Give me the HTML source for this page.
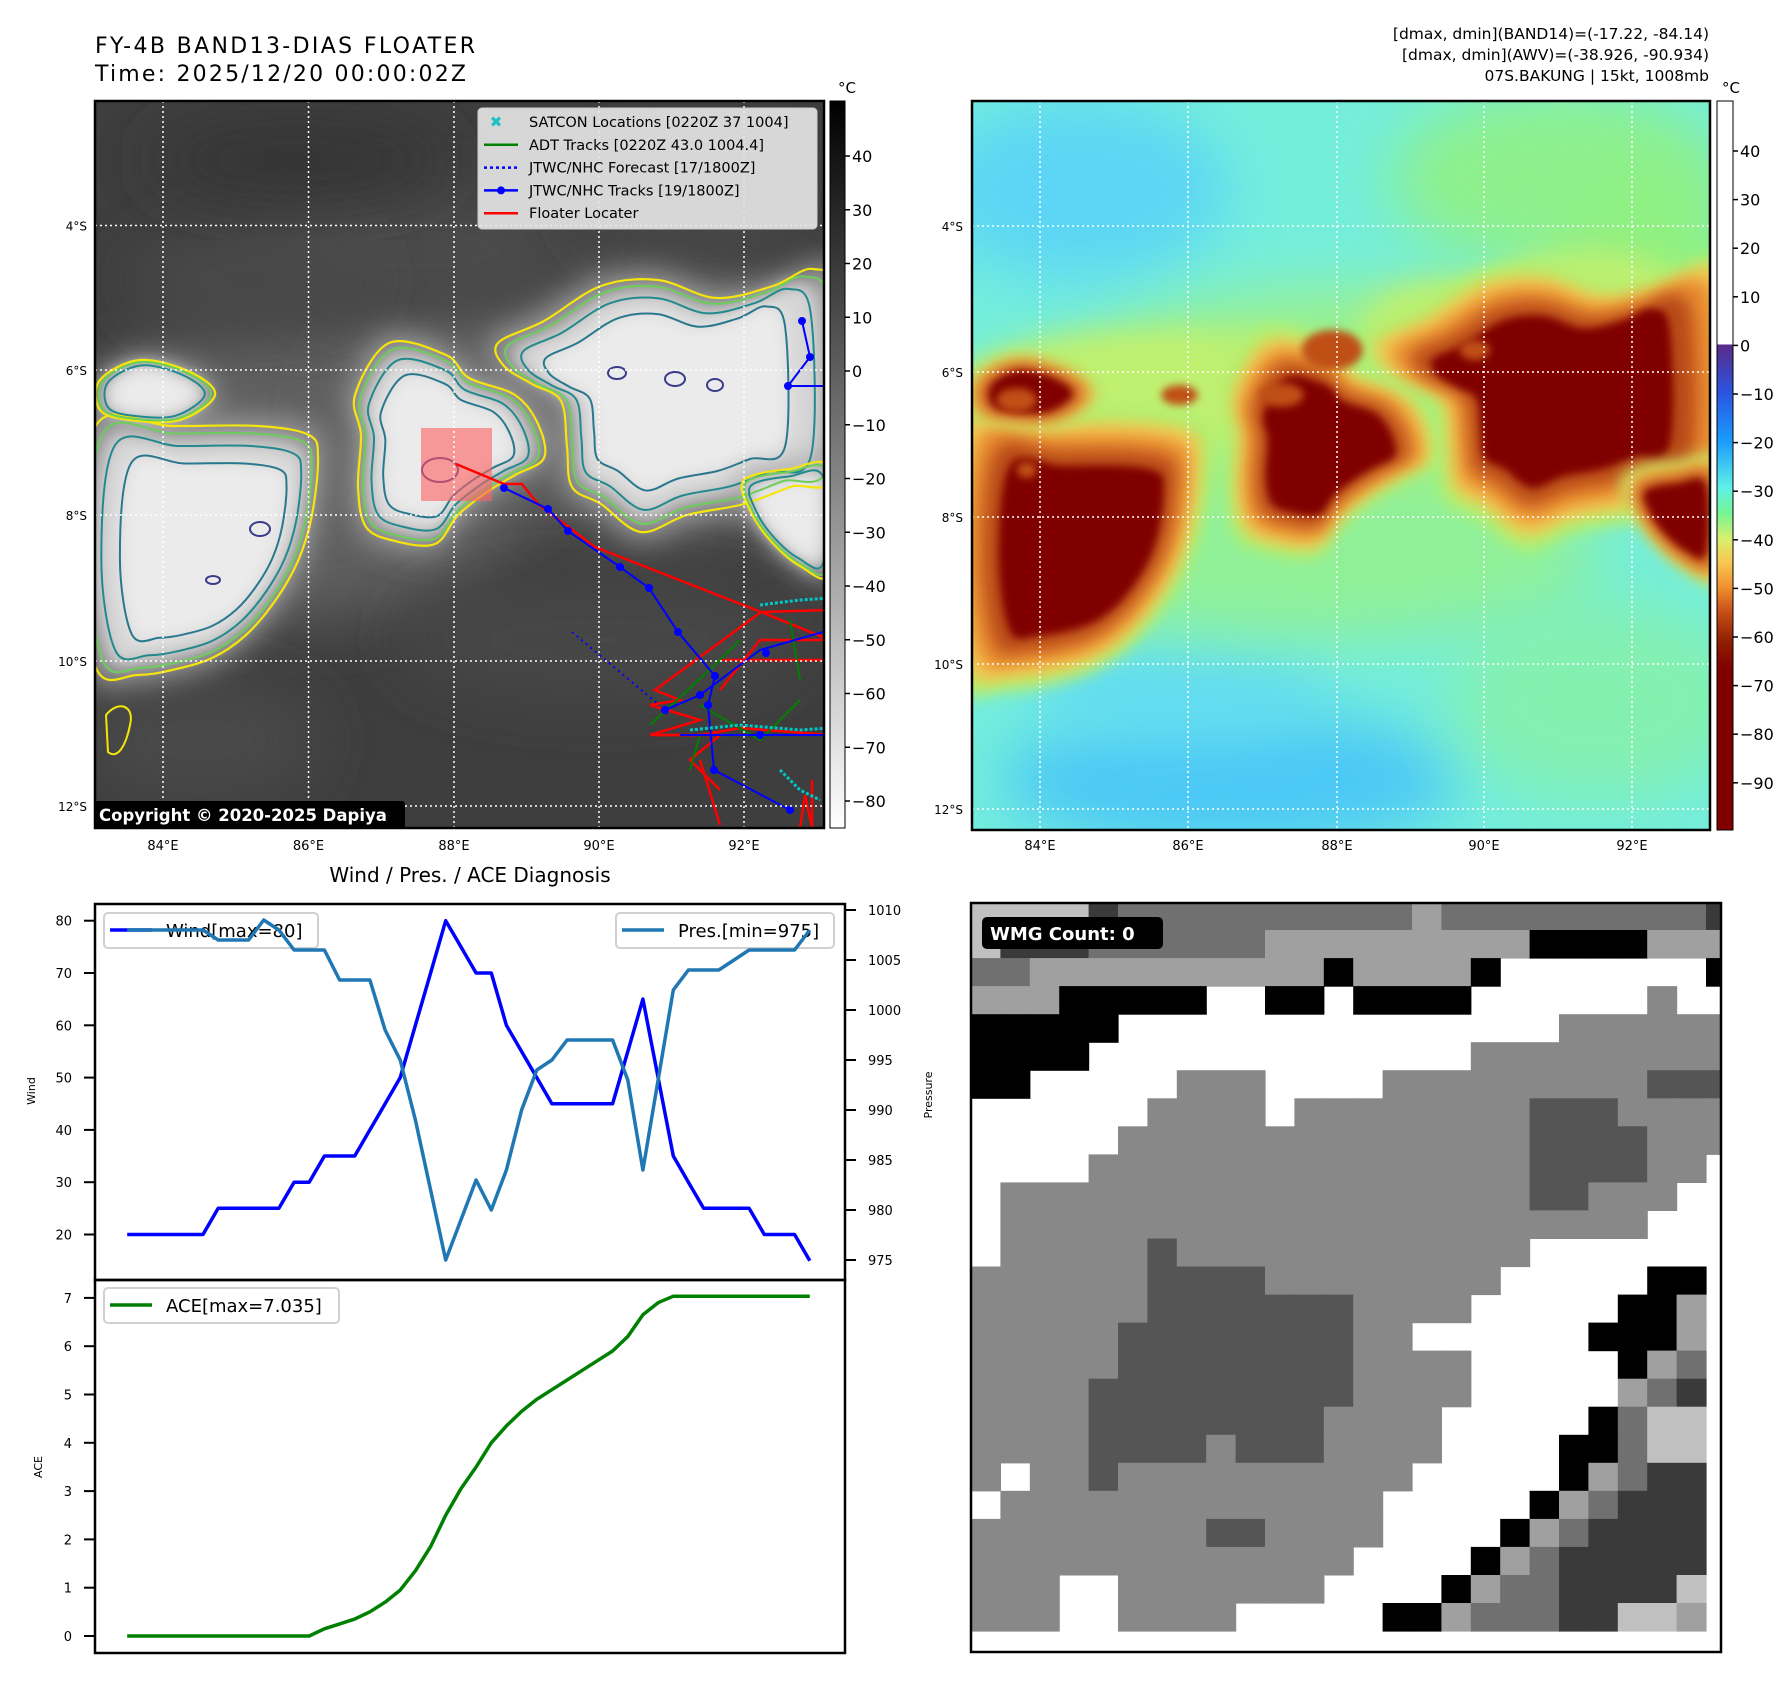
<!DOCTYPE html>
<html><head><meta charset="utf-8">
<style>
html,body{margin:0;padding:0;background:#fff;}
svg{display:block;font-family:"DejaVu Sans","Liberation Sans",sans-serif;}
</style></head>
<body>
<svg id="root" xmlns="http://www.w3.org/2000/svg" width="1788" height="1690" viewBox="0 0 1788 1690">
<defs>
 <filter id="b4" x="-50%" y="-50%" width="200%" height="200%"><feGaussianBlur stdDeviation="4"/></filter>
 <filter id="b8" x="-50%" y="-50%" width="200%" height="200%"><feGaussianBlur stdDeviation="8"/></filter>
 <filter id="b15" x="-50%" y="-50%" width="200%" height="200%"><feGaussianBlur stdDeviation="15"/></filter>
 <filter id="b30" x="-50%" y="-50%" width="200%" height="200%"><feGaussianBlur stdDeviation="30"/></filter>
 <clipPath id="clipL"><rect x="95" y="101" width="729" height="727"/></clipPath>
 <clipPath id="clipR"><rect x="972" y="101" width="738" height="729"/></clipPath>
 <clipPath id="clipG"><rect x="971" y="903" width="750" height="749"/></clipPath>
 <linearGradient id="grayCb" x1="0" y1="0" x2="0" y2="1">
  <stop offset="0" stop-color="#000"/><stop offset="1" stop-color="#fff"/>
 </linearGradient>
 <linearGradient id="awvCb" x1="0" y1="0" x2="0" y2="1">
  <stop offset="0" stop-color="#ffffff"/>
  <stop offset="0.333" stop-color="#ffffff"/>
  <stop offset="0.335" stop-color="#5a2a8a"/>
  <stop offset="0.40" stop-color="#2a55e0"/>
  <stop offset="0.467" stop-color="#1a9cff"/>
  <stop offset="0.53" stop-color="#5ef0e8"/>
  <stop offset="0.567" stop-color="#78f590"/>
  <stop offset="0.60" stop-color="#d8f070"/>
  <stop offset="0.633" stop-color="#f8c850"/>
  <stop offset="0.667" stop-color="#f09030"/>
  <stop offset="0.70" stop-color="#c85018"/>
  <stop offset="0.74" stop-color="#902000"/>
  <stop offset="0.78" stop-color="#800000"/>
  <stop offset="1" stop-color="#800000"/>
 </linearGradient>
</defs>

<text x="95" y="53" font-size="22" textLength="380">FY-4B BAND13-DIAS FLOATER</text>
<text x="95" y="81" font-size="22" textLength="371">Time: 2025/12/20 00:00:02Z</text>
<text x="1709" y="39" font-size="15.5" text-anchor="end">[dmax, dmin](BAND14)=(-17.22, -84.14)</text>
<text x="1709" y="60" font-size="15.5" text-anchor="end">[dmax, dmin](AWV)=(-38.926, -90.934)</text>
<text x="1709" y="81" font-size="15.5" text-anchor="end">07S.BAKUNG | 15kt, 1008mb</text>

<g id="leftMap" clip-path="url(#clipL)"></g>
<rect x="95" y="101" width="729" height="727" fill="none" stroke="#000" stroke-width="2.5"/>
<g id="rightMap" clip-path="url(#clipR)"></g>
<rect x="972" y="101" width="738" height="729" fill="none" stroke="#000" stroke-width="2.5"/>

<rect x="830" y="101" width="15" height="727" fill="url(#grayCb)" stroke="#000" stroke-width="1"/>
<text x="838" y="93" font-size="15">°C</text>
<g id="cbL"></g>
<rect x="1717" y="101" width="16" height="729" fill="url(#awvCb)" stroke="#000" stroke-width="1"/>
<text x="1722" y="93" font-size="15">°C</text>
<g id="cbR"></g>

<text x="470" y="882" font-size="20" text-anchor="middle">Wind / Pres. / ACE Diagnosis</text>
<g id="chart"></g>

<g id="grid" clip-path="url(#clipG)"></g>
<rect x="971" y="903" width="750" height="749" fill="none" stroke="#000" stroke-width="2.5"/>
<rect x="982" y="917" width="181" height="32" rx="5" fill="#000"/>
<text x="990" y="940" font-size="18" font-weight="bold" fill="#fff">WMG Count: 0</text>
</svg>

<script>
// ---------- chart data ----------
const windVals = [20,20,20,20,20,20,25,25,25,25,25,30,30,35,35,35,40,45,50,60,70,80,75,70,70,60,55,50,45,45,45,45,45,55,65,50,35,30,25,25,25,25,20,20,20,15];
const presVals = [1008,1008,1008,1008,1008,1008,1007,1007,1007,1009,1008,1006,1006,1006,1003,1003,1003,998,995,989,982,975,979,983,980,984,990,994,995,997,997,997,997,993,984,993,1002,1004,1004,1004,1005,1006,1006,1006,1006,1008];
const aceVals = [0,0,0,0,0,0,0,0,0,0,0,0,0,0.15,0.25,0.35,0.5,0.7,0.95,1.35,1.85,2.5,3.05,3.5,4.0,4.35,4.65,4.9,5.1,5.3,5.5,5.7,5.9,6.2,6.65,6.9,7.035,7.035,7.035,7.035,7.035,7.035,7.035,7.035,7.035,7.035];
const windTicks = [20,30,40,50,60,70,80];
const presTicks = [975,980,985,990,995,1000,1005,1010];
const aceTicks = [0,1,2,3,4,5,6,7];
const windLegend = "Wind[max=80]";
const presLegend = "Pres.[min=975]";
const aceLegend = "ACE[max=7.035]";
const irTicks = [40,30,20,10,0,-10,-20,-30,-40,-50,-60,-70,-80];
const awvTicks = [40,30,20,10,0,-10,-20,-30,-40,-50,-60,-70,-80,-90];
const lonLabels = ["84°E","86°E","88°E","90°E","92°E"];
const latLabels = ["4°S","6°S","8°S","10°S","12°S"];

const NS="http://www.w3.org/2000/svg";
function mk(tag,attrs,parent){const e=document.createElementNS(NS,tag);for(const k in attrs)e.setAttribute(k,attrs[k]);parent.appendChild(e);return e;}

const xI = i => 127.2 + i*(809.8-127.2)/(windVals.length-1);
const yW = v => 1234.5 - (v-20)*5.23;
const yP = p => 1260 - (p-975)*10;
const yA = a => 1636 - a*48.3;

const chart=document.getElementById('chart');
let f1=mk('rect',{x:95,y:904,width:750,height:376,fill:'none',stroke:'#000','stroke-width':2.5},chart);


let f2=mk('rect',{x:95,y:1280,width:750,height:373,fill:'none',stroke:'#000','stroke-width':2.5},chart);



windTicks.forEach(v=>{
  const y=yW(v);
  const t=mk('line',{x1:84,y1:y,x2:95,y2:y,stroke:'#000','stroke-width':2},chart);
  
  
  const l=mk('text',{x:72,y:y+5,'font-size':13,'text-anchor':'end'},chart);l.textContent=v;
  
  
});
presTicks.forEach(v=>{
  const y=yP(v);
  const t=mk('line',{x1:845,y1:y,x2:856,y2:y,stroke:'#000','stroke-width':2},chart);
  
  
  const l=mk('text',{x:868,y:y+5,'font-size':13},chart);l.textContent=v;
  
  
});
aceTicks.forEach(v=>{
  const y=yA(v);
  const t=mk('line',{x1:84,y1:y,x2:95,y2:y,stroke:'#000','stroke-width':2},chart);
  
  
  const l=mk('text',{x:72,y:y+5,'font-size':13,'text-anchor':'end'},chart);l.textContent=v;
  
  
});
let yl=mk('text',{x:0,y:0,'font-size':11,'text-anchor':'middle',transform:'translate(35,1091) rotate(-90)'},chart);yl.textContent='Wind';


let pl=mk('text',{x:0,y:0,'font-size':11,'text-anchor':'middle',transform:'translate(932,1095) rotate(-90)'},chart);pl.textContent='Pressure';


let al=mk('text',{x:0,y:0,'font-size':11,'text-anchor':'middle',transform:'translate(42,1467) rotate(-90)'},chart);al.textContent='ACE';



function legend(name,x,y,w,color,label){
  const g=mk('g',{},chart);
  
  
  mk('rect',{x:x,y:y,width:w,height:35,rx:4,fill:'#fff','fill-opacity':0.8,stroke:'#d0d0d0','stroke-width':2},g);
  mk('line',{x1:x+6,y1:y+17,x2:x+48,y2:y+17,stroke:color,'stroke-width':3.5},g);
  const t=mk('text',{x:x+62,y:y+24,'font-size':18},g);t.textContent=label;
}
legend('wind-legend',104,913,214,'#0000ff',windLegend);
legend('pressure-legend',616,913,218,'#1f77b4',presLegend);
legend('ace-legend',104,1288,235,'#008000',aceLegend);

const windPts=windVals.map((v,i)=>xI(i).toFixed(1)+','+yW(v).toFixed(1)).join(' ');
const presPts=presVals.map((v,i)=>xI(i).toFixed(1)+','+yP(v).toFixed(1)).join(' ');
const acePts=aceVals.map((v,i)=>xI(i).toFixed(1)+','+yA(v).toFixed(1)).join(' ');
let wl=mk('polyline',{points:windPts,fill:'none',stroke:'#0000ff','stroke-width':3.5,'stroke-linejoin':'round'},chart);


let plin=mk('polyline',{points:presPts,fill:'none',stroke:'#1f77b4','stroke-width':3.5,'stroke-linejoin':'round'},chart);


let alin=mk('polyline',{points:acePts,fill:'none',stroke:'#008000','stroke-width':3.5,'stroke-linejoin':'round'},chart);



const cbL=document.getElementById('cbL');
irTicks.forEach(v=>{
  const y=156+(40-v)*5.375;
  mk('line',{x1:845,y1:y,x2:850,y2:y,stroke:'#000','stroke-width':1.5},cbL);
  const t=mk('text',{x:852,y:y+6,'font-size':16},cbL);t.textContent=(v<0?'\u2212'+(-v):v);
  
  
});
const cbR=document.getElementById('cbR');
awvTicks.forEach(v=>{
  const y=151+(40-v)*4.86;
  mk('line',{x1:1733,y1:y,x2:1738,y2:y,stroke:'#000','stroke-width':1.5},cbR);
  const t=mk('text',{x:1740,y:y+6,'font-size':16},cbR);t.textContent=(v<0?'\u2212'+(-v):v);
  
  
});

const blobA=[[97,424],[172,426],[258,426],[309,435],[318,458],[312,515],[298,561],[275,601],[246,635],[212,658],[172,670],[137,675],[97,670],[80,560]];
const blobB=[[355,395],[389,343],[446,355],[469,378],[515,395],[538,424],[544,458],[515,475],[487,492],[458,515],[435,544],[395,541],[366,527],[358,487],[361,435]];
const blobC=[[498,343],[544,321],[601,286],[658,280],[716,298],[773,286],[813,269],[840,298],[840,469],[790,487],[744,504],[687,515],[641,532],[601,504],[572,487],[567,447],[561,401],[532,384],[504,366]];
const blobD=[[744,480],[790,469],[830,470],[830,572],[800,566],[770,540],[750,510]];
const blobE=[[100,380],[140,360],[190,372],[215,395],[180,420],[130,420],[100,410]];
const blobs=[blobA,blobB,blobC,blobD,blobE];

function scl(p,s,dx,dy){let cx=0,cy=0;p.forEach(q=>{cx+=q[0];cy+=q[1];});cx/=p.length;cy/=p.length;
  return p.map(q=>[cx+(q[0]-cx)*s+(dx||0),cy+(q[1]-cy)*s+(dy||0)]);}
function smooth(p){const n=p.length;let d='M'+p[0][0].toFixed(1)+','+p[0][1].toFixed(1);
  for(let i=0;i<n;i++){const p0=p[(i-1+n)%n],p1=p[i],p2=p[(i+1)%n],p3=p[(i+2)%n];
    const c1=[p1[0]+(p2[0]-p0[0])/6,p1[1]+(p2[1]-p0[1])/6],c2=[p2[0]-(p3[0]-p1[0])/6,p2[1]-(p3[1]-p1[1])/6];
    d+=' C'+c1[0].toFixed(1)+','+c1[1].toFixed(1)+' '+c2[0].toFixed(1)+','+c2[1].toFixed(1)+' '+p2[0].toFixed(1)+','+p2[1].toFixed(1);}
  return d+'Z';}

const L=document.getElementById('leftMap');
mk('rect',{x:95,y:101,width:729,height:727,fill:'#3e3e3e'},L);
[[300,470,240,150,'#5e5e5e'],[660,400,200,140,'#5a5a5a'],[450,420,120,110,'#606060'],[420,250,160,60,'#4c4c4c'],[250,280,120,50,'#4a4a4a'],[600,640,200,60,'#474747'],[200,740,120,60,'#484848'],[700,200,120,60,'#474747'],[300,160,150,40,'#363636']].forEach(e=>{
  mk('ellipse',{cx:e[0],cy:e[1],rx:e[2],ry:e[3],fill:e[4],filter:'url(#b30)'},L);
});
blobs.forEach((b,k)=>{
  mk('path',{d:smooth(scl(b,1.05)),fill:'#a0a0a0',filter:'url(#b15)'},L);
  mk('path',{d:smooth(scl(b,0.88)),fill:'#d6d6d6',filter:'url(#b8)'},L);
  mk('path',{d:smooth(scl(b,0.7)),fill:'#ebebeb',filter:'url(#b8)'},L);
});
blobs.forEach((b,k)=>{
  const y=mk('path',{d:smooth(b),fill:'none',stroke:'#f5e50a','stroke-width':2.2},L);
  
  
  const g=mk('path',{d:smooth(scl(b,0.94)),fill:'none',stroke:'#6ccd5a','stroke-width':2},L);
  
  
  const t=mk('path',{d:smooth(scl(b,0.84)),fill:'none',stroke:'#22898e','stroke-width':2},L);
  
  
  if(k<3){const t2=mk('path',{d:smooth(scl(b,0.7)),fill:'none',stroke:'#2a788e','stroke-width':2},L);
  
  }
});
[[260,529,10,7],[213,580,7,4],[440,470,18,12],[617,373,9,6],[675,379,10,7],[715,385,8,6]].forEach(e=>{
  const n=mk('ellipse',{cx:e[0],cy:e[1],rx:e[2],ry:e[3],fill:'none',stroke:'#3b3b8b','stroke-width':2},L);
  
  
});
mk('path',{d:'M106,715 C118,700 135,705 130,725 C126,745 118,760 108,752 Z',fill:'none',stroke:'#f5e50a','stroke-width':2},L);
const fb=mk('rect',{x:421,y:428,width:71,height:73,fill:'#ff6060','fill-opacity':0.6},L);


const red=[[456,464],[504,484],[522,484],[538,504],[595,547],[761,612],[830,640]];
let rl=mk('polyline',{points:red.map(p=>p.join(',')).join(' '),fill:'none',stroke:'#ff0000','stroke-width':2.5},L);


['761,612 655,690 680,700 650,705 700,720 650,735 720,735 690,760 720,790','761,612 830,610','722,660 830,660','655,735 700,735 740,728 830,735','700,760 720,825','812,780 812,828 805,795 800,828','720,690 760,640 830,640'].forEach(s=>{
  mk('polyline',{points:s,fill:'none',stroke:'#ff0000','stroke-width':2.5},L);
});
['650,725 720,660 740,640','700,705 760,740 800,700','700,735 690,770','790,620 800,680'].forEach(s=>{
  mk('polyline',{points:s,fill:'none',stroke:'#008000','stroke-width':2},L);
});
const blue=[[504,488],[548,509],[568,531],[620,567],[649,588],[678,632],[715,676],[708,705],[714,770],[790,810]];
let bl=mk('polyline',{points:blue.map(p=>p.join(',')).join(' '),fill:'none',stroke:'#0000ff','stroke-width':2},L);


blue.forEach(p=>mk('circle',{cx:p[0],cy:p[1],r:4,fill:'#0000ff'},L));
mk('polyline',{points:'665,710 700,695 760,650 830,630',fill:'none',stroke:'#0000ff','stroke-width':2},L);
mk('polyline',{points:'680,735 830,735 830,760',fill:'none',stroke:'#0000ff','stroke-width':2},L);
[[665,710],[700,695],[766,653],[760,735]].forEach(p=>mk('circle',{cx:p[0],cy:p[1],r:4,fill:'#0000ff'},L));
mk('polyline',{points:'802,321 810,357 788,386 830,386',fill:'none',stroke:'#0000ff','stroke-width':2},L);
[[802,321],[810,357],[788,386]].forEach(p=>mk('circle',{cx:p[0],cy:p[1],r:4,fill:'#0000ff'},L));
let fc=mk('line',{x1:572,y1:632,x2:658,y2:704,stroke:'#0000ff','stroke-width':2,'stroke-dasharray':'2,4'},L);


['690,730 740,725 800,730 830,728','780,770 800,790 820,800','760,605 800,600 830,598'].forEach(s=>mk('polyline',{points:s,fill:'none',stroke:'#00c8c8','stroke-width':3,'stroke-dasharray':'3,2'},L));
[163,308.5,454,599,744].forEach(x=>mk('line',{x1:x,y1:101,x2:x,y2:828,stroke:'#fff','stroke-width':1.5,'stroke-dasharray':'2,3'},L));
[225.5,370,515,661,806].forEach(y=>mk('line',{x1:95,y1:y,x2:824,y2:y,stroke:'#fff','stroke-width':1.5,'stroke-dasharray':'2,3'},L));
const lg=mk('g',{},L);


mk('rect',{x:478,y:108,width:339,height:121,rx:4,fill:'#e4e4e4','fill-opacity':0.92,stroke:'#cccccc'},lg);
const lgItems=[["SATCON Locations [0220Z 37 1004]",'x'],["ADT Tracks [0220Z 43.0 1004.4]",'g'],["JTWC/NHC Forecast [17/1800Z]",'d'],["JTWC/NHC Tracks [19/1800Z]",'b'],["Floater Locater",'r']];
lgItems.forEach((it,i)=>{
  const y=122+i*22.8;
  if(it[1]=='x'){const t=mk('text',{x:496,y:y+5,'font-size':15,'font-weight':'bold',fill:'#20c0c0','text-anchor':'middle'},lg);t.textContent='✖';}
  if(it[1]=='g')mk('line',{x1:484,y1:y,x2:518,y2:y,stroke:'#008000','stroke-width':2.5},lg);
  if(it[1]=='d')mk('line',{x1:484,y1:y,x2:518,y2:y,stroke:'#0000ff','stroke-width':2.5,'stroke-dasharray':'3,3'},lg);
  if(it[1]=='b'){mk('line',{x1:484,y1:y,x2:518,y2:y,stroke:'#0000ff','stroke-width':2.5},lg);mk('circle',{cx:501,cy:y,r:4,fill:'#0000ff'},lg);}
  if(it[1]=='r')mk('line',{x1:484,y1:y,x2:518,y2:y,stroke:'#ff0000','stroke-width':2.5},lg);
  const t=mk('text',{x:529,y:y+5,'font-size':14.5},lg);t.textContent=it[0];
  
  
});
mk('rect',{x:93,y:801,width:312,height:27,rx:3,fill:'#000'},L);
let cp=mk('text',{x:99,y:821,'font-size':16.5,'font-weight':'bold',fill:'#fff'},L);cp.textContent='Copyright © 2020-2025 Dapiya';



const R=document.getElementById('rightMap');
mk('rect',{x:972,y:101,width:738,height:729,fill:'#74eedc'},R);
[[1080,190,150,90,'#5cd6f4'],[1230,780,230,70,'#4cc8f6'],[1180,690,150,50,'#62dcf2'],[1560,180,170,90,'#8ef08c'],[1650,300,100,120,'#90f080'],[1600,700,150,100,'#84f0b0'],[1050,420,90,60,'#84f0a0'],[1350,420,320,130,'#9cf088'],[1300,560,300,80,'#90f098']].forEach(e=>{
  mk('ellipse',{cx:e[0],cy:e[1],rx:e[2],ry:e[3],fill:e[4],filter:'url(#b30)'},R);
});
const RG=mk('g',{transform:'translate(1040,0) scale(1.018,1) translate(-163,0)'},R);
[[280,390,200,60],[560,330,80,50],[700,300,100,50]].forEach(e=>mk('ellipse',{cx:e[0],cy:e[1],rx:e[2],ry:e[3],fill:'#c0f070',filter:'url(#b15)'},RG));
blobs.forEach((b,k)=>{
  mk('path',{d:smooth(scl(b,1.14)),fill:'#b0f070',filter:'url(#b8)'},RG);
  mk('path',{d:smooth(scl(b,1.03)),fill:'#f4c850',filter:'url(#b8)'},RG);
  mk('path',{d:smooth(scl(b,0.92)),fill:'#e88a30',filter:'url(#b8)'},RG);
  mk('path',{d:smooth(scl(b,0.8)),fill:'#b84818',filter:'url(#b8)'},RG);
  mk('path',{d:smooth(scl(b,0.68)),fill:'#800000',filter:'url(#b4)'},RG);
});
[[140,400,20,12],[300,395,18,10],[400,395,22,12],[450,350,30,20],[590,350,15,10],[150,470,10,8]].forEach(e=>{
  mk('ellipse',{cx:e[0],cy:e[1],rx:e[2],ry:e[3],fill:'#c05018',filter:'url(#b4)'},RG);
});
[1040,1188,1337,1484,1632].forEach(x=>mk('line',{x1:x,y1:101,x2:x,y2:830,stroke:'#fff','stroke-width':1.5,'stroke-dasharray':'2,3'},R));
[226,372,517,664,809].forEach(y=>mk('line',{x1:972,y1:y,x2:1710,y2:y,stroke:'#fff','stroke-width':1.5,'stroke-dasharray':'2,3'},R));

const root=document.getElementById('root');
const lonXL=[163,308.5,454,599,744], lonXR=[1040,1188,1337,1484,1632];
lonLabels.forEach((s,i)=>{
  let a=mk('text',{x:lonXL[i],y:850,'font-size':13,'text-anchor':'middle'},root);a.textContent=s;
  
  
  let b=mk('text',{x:lonXR[i],y:850,'font-size':13,'text-anchor':'middle'},root);b.textContent=s;
  
  
});
const latYL=[225.5,370,515,661,806], latYR=[226,372,517,664,809];
latLabels.forEach((s,i)=>{
  let a=mk('text',{x:87,y:latYL[i]+5,'font-size':12,'text-anchor':'end'},root);a.textContent=s;
  
  
  let b=mk('text',{x:963,y:latYR[i]+5,'font-size':12,'text-anchor':'end'},root);b.textContent=s;
  
  
});

const gridRows=[
"SSSSDTTTTTTTTTTLTTTTTTTTTD",
"SDDDTTTTTTLLLLLLLLLKKKKLLL",
"TTLLLLLLLLLLKLLLLKWWWWWWWK",
"LLLKKKKKWWKKWKKKKWWWWWWGWW",
"KKKKKWWWWWWWWWWWWWWWGGGGGG",
"KKKKWWWWWWWWWWWWWGGGGGGGGG",
"KKWWWWWGGGWWWWGGGGGGGGGMMM",
"WWWWWWGGGGWGGGGGGGGMMMGGGG",
"WWWWWGGGGGGGGGGGGGGMMMMGGG",
"WWWWGGGGGGGGGGGGGGGMMMMGGW",
"WGGGGGGGGGGGGGGGGGGMMGGGWW",
"WGGGGGGGGGGGGGGGGGGGGGGWWW",
"WGGGGGMGGGGGGGGGGGGWWWWWWW",
"GGGGGGMMMMGGGGGGGGWWWWWKKW",
"GGGGGGMMMMMMMGGGGWWWWWKKLW",
"GGGGGMMMMMMMMGGWWWWWWKKKLW",
"GGGGGMMMMMMMMGGGGWWWWWKLTW",
"GGGGMMMMMMMMMGGGGWWWWWLTDW",
"GGGGMMMMMMMMGGGGWWWWWKTSSW",
"GGGGMMMMGMMMGGGGWWWWKKTSSW",
"GWGGMGGGGGGGGGGWWWWWKLTDDW",
"WGGGGGGGGGGGGGWWWWWKLTDDDW",
"GGGGGGGGMMGGGGWWWWKLTDDDDW",
"GGGGGGGGGGGGGWWWWKLTDDDDDW",
"GGGWWGGGGGGGWWWWKLTTDDDDSW",
"GGGWWGGGGWWWWWKKLTTTDDSSLW"];
const shade={W:'#ffffff',K:'#000000',D:'#3a3a3a',M:'#555555',G:'#888888',L:'#a0a0a0',S:'#c0c0c0',T:'#707070'};
const G=document.getElementById('grid');
mk('rect',{x:971,y:903,width:750,height:749,fill:'#fff'},G);
gridRows.forEach((row,r)=>{
  for(let c=0;c<row.length;c++){
    if(row[c]==='W')continue;
    const cell=mk('rect',{x:(971+c*29.4).toFixed(1),y:(902+r*28.04).toFixed(1),width:30,height:28.6,fill:shade[row[c]]},G);
    
    
  }
});
</script>
</body></html>
